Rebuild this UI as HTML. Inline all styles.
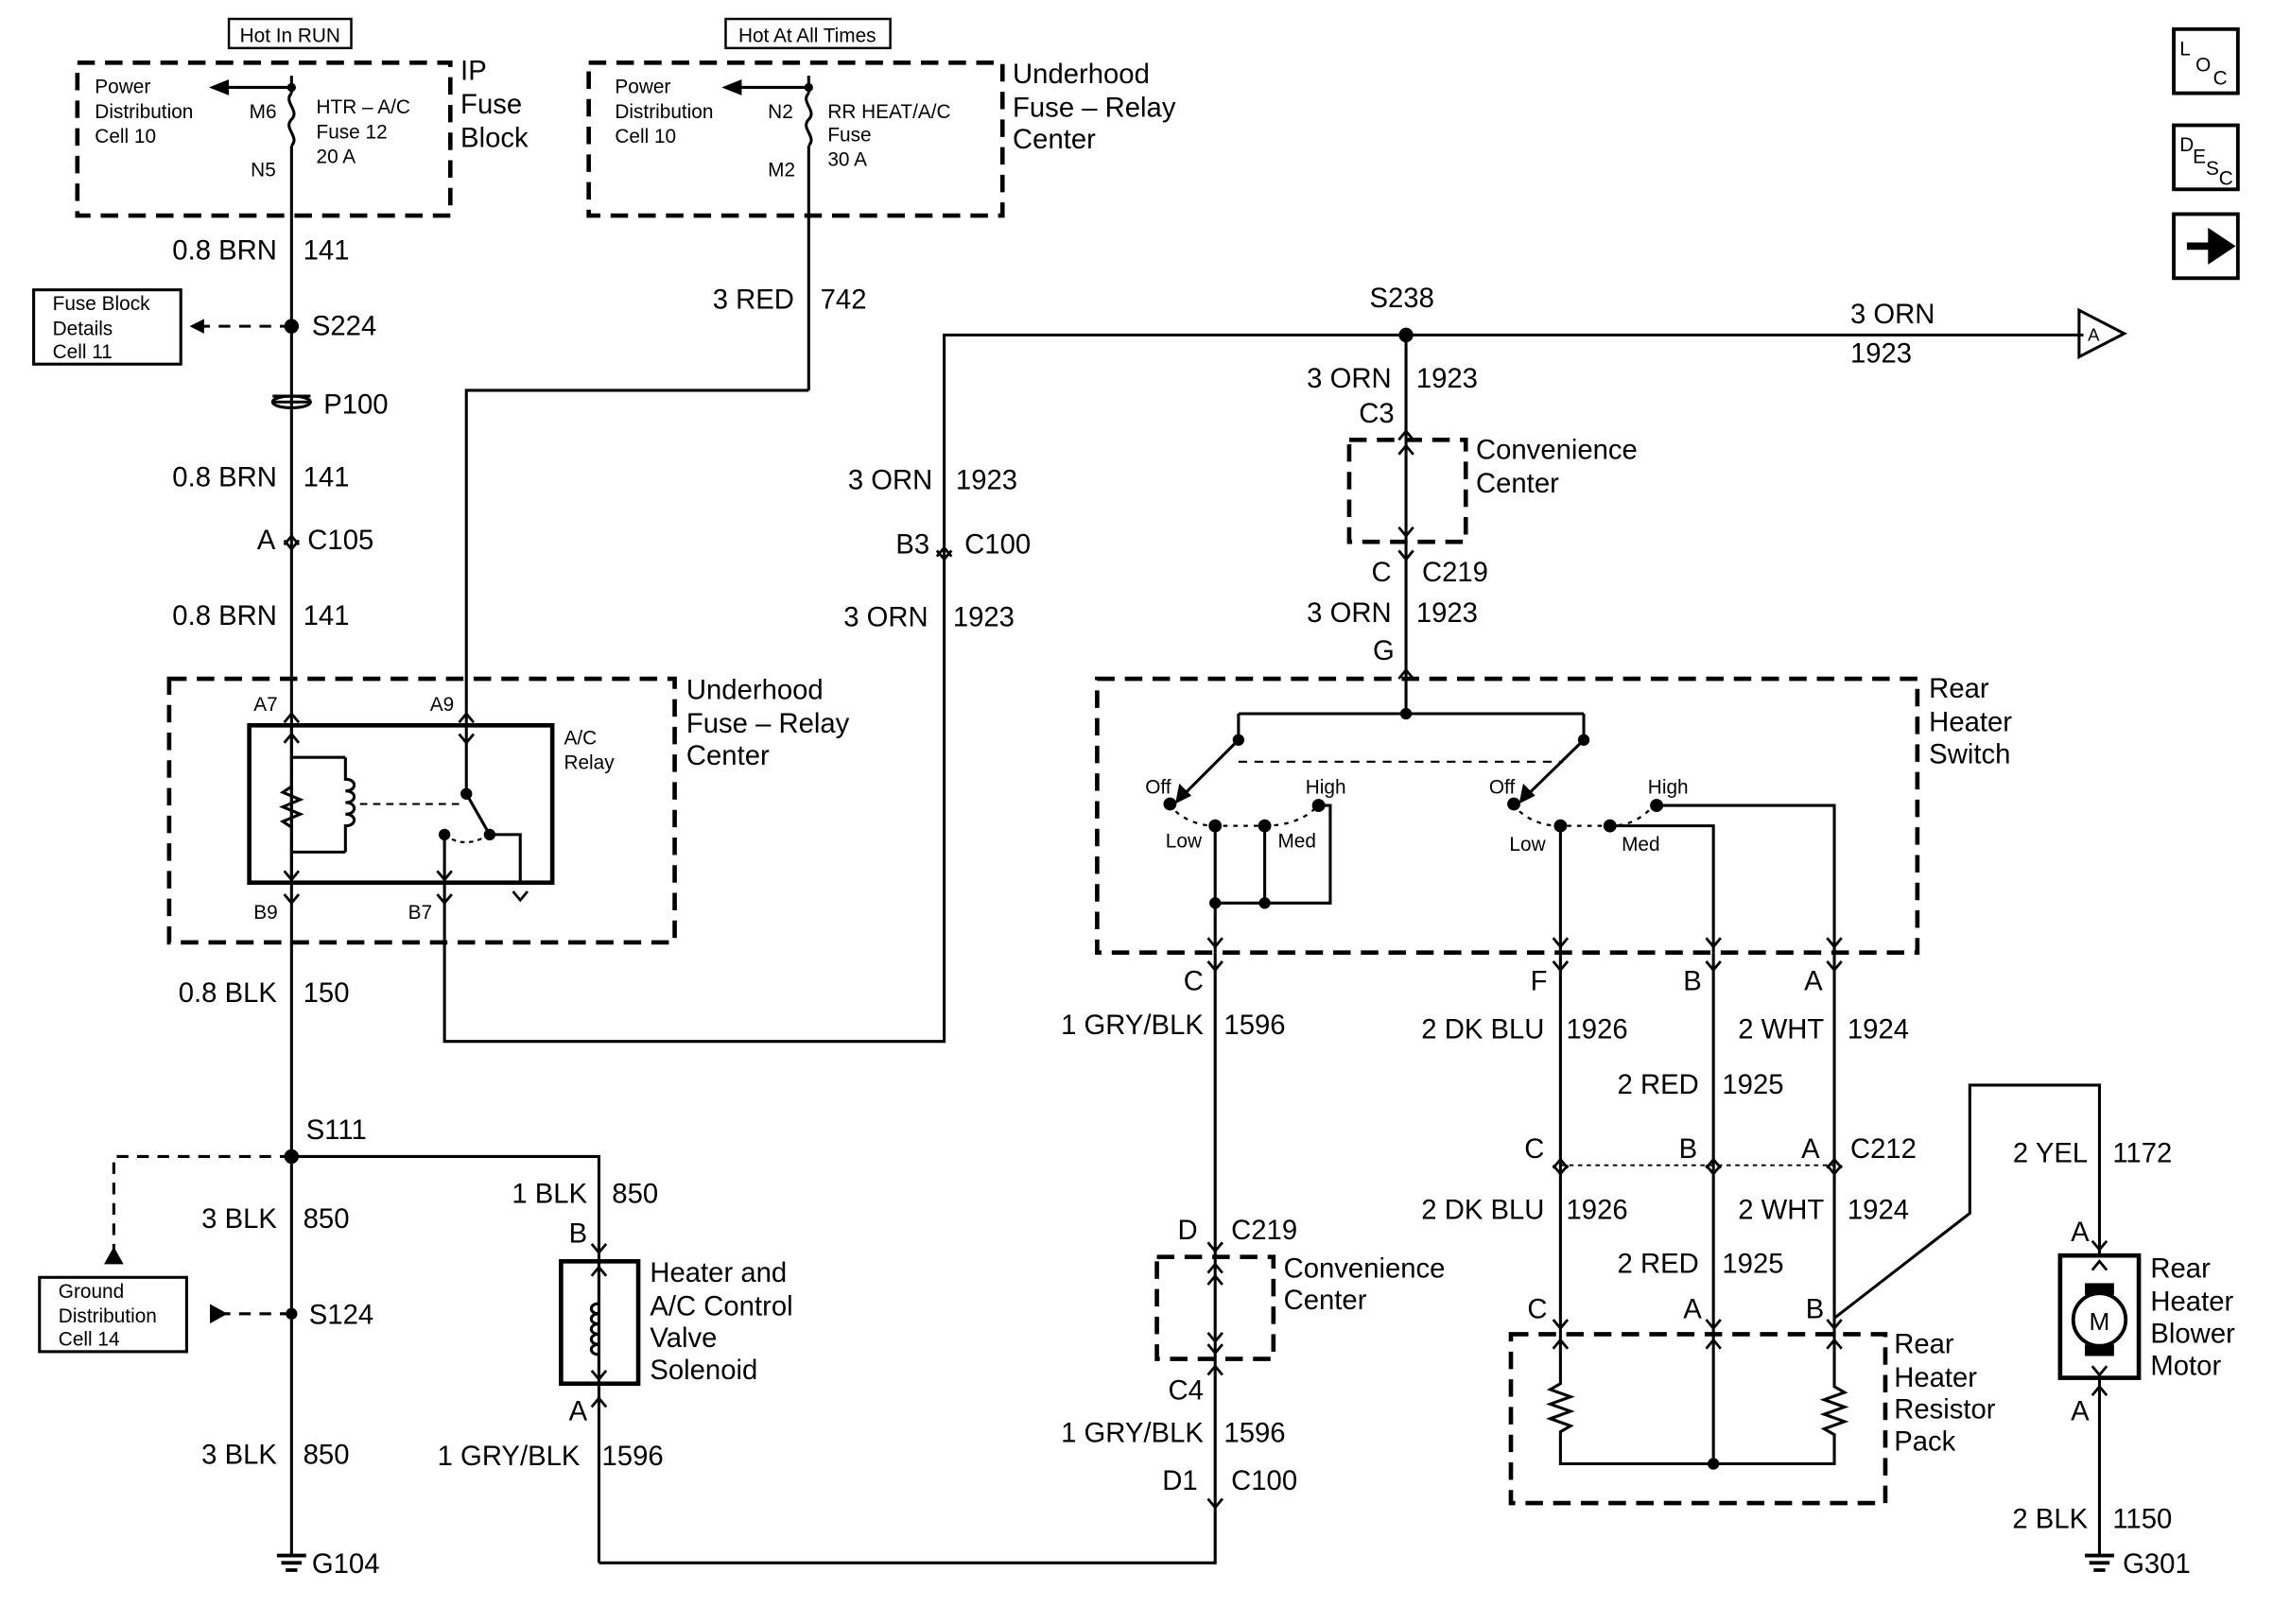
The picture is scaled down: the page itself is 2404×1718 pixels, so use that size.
<!DOCTYPE html>
<html><head><meta charset="utf-8"><style>
html,body{margin:0;padding:0;background:#fff}
svg{display:block}
text{font-family:"Liberation Sans",sans-serif;fill:#000}
.l{font-size:19px}.s{font-size:13.5px}
</style></head><body>
<svg width="2404" height="1718" viewBox="0 0 1560 1115" xmlns="http://www.w3.org/2000/svg">
<defs>
<polyline id="dn" points="-5,-6 0,0 5,-6" fill="none" stroke="#000" stroke-width="1.8"/>
<polyline id="up" points="-5,6 0,0 5,6" fill="none" stroke="#000" stroke-width="1.8"/>
</defs>
<g fill="none" stroke="#000" stroke-width="2">
<g stroke-width="3" stroke-dasharray="12,7">
<rect x="53" y="43" width="256" height="105"/>
<rect x="404" y="43" width="284" height="105"/>
<rect x="116" y="466" width="347" height="181"/>
<rect x="926" y="302" width="80" height="70"/>
<rect x="753" y="466" width="563" height="188"/>
<rect x="794" y="863" width="80" height="70"/>
<rect x="1037" y="916" width="257" height="116"/>
</g>
<rect x="157" y="13" width="84" height="20" stroke-width="1.6"/>
<rect x="498" y="13" width="113" height="20" stroke-width="1.6"/>
<rect x="23" y="199" width="101" height="51"/>
<rect x="27" y="877" width="101" height="51"/>
<path d="M200 52V64 M200 100V148 M200 64c-6 6 6 12 0 18c-6 6 6 12 0 18"/>
<path d="M200 60H148"/><path d="M146 60l10-4v8z" fill="#000"/>
<circle cx="200" cy="60" r="2" fill="#000"/>
<path d="M555 52V64 M555 100V268 M555 64c-6 6 6 12 0 18c-6 6 6 12 0 18"/>
<path d="M555 60H500"/><path d="M498 60l10-4v8z" fill="#000"/>
<circle cx="555" cy="60" r="2" fill="#000"/>
<path d="M200 148V1068"/>
<path d="M200 224H138" stroke-dasharray="8,6"/><path d="M130 224l10-5v10z" fill="#000" stroke="none"/>
<ellipse cx="200" cy="276" rx="13" ry="4"/><path d="M187 276h26 M187 272h26"/>
<path d="M200 794H78V858" stroke-dasharray="8,6"/><path d="M78 858l-5 9h10z" fill="#000"/>
<path d="M200 902H148" stroke-dasharray="8,6"/><path d="M145 897l9 5-9 5z" fill="#000"/>
<path d="M200 794H411V950 M411 950V1073"/>
<rect x="171" y="498" width="208" height="108" stroke-width="3"/>
<path d="M200 498V606 M200 520H237 M200 585H237"/>
<path d="M200 540l-6 4 12 5-12 5 12 5-12 5 6 4"/>
<path d="M237 520V535c8 0 8 8 0 8c8 0 8 8 0 8c8 0 8 8 0 8c8 0 8 8 0 8V585"/>
<path d="M247 552H318" stroke-dasharray="5,4" stroke-width="1.4"/>
<path d="M320 498V545L336 573H357V606 M305 573V606"/>
<circle cx="320" cy="545" r="3" fill="#000"/><circle cx="336" cy="573" r="3" fill="#000"/><circle cx="305" cy="573" r="3" fill="#000"/>
<path d="M305 573c10 8 22 6 30 0" stroke-dasharray="3,3" stroke-width="1.4"/>
<path d="M320 498V268H555 M305 606V715H648V230H1430"/>
<path d="M965 230V466"/>
<path d="M965 466V490 M850 490H1087 M850 490V508 M1087 490V508 M850 508L808 550 M1087 508L1044 550"/>
<path d="M808 550l2-10 6 6z M1044 550l2-10 6 6z" fill="#000"/>
<path d="M850 523H1073" stroke-dasharray="6,5" stroke-width="1.4"/>
<path d="M802 552c8 10 20 15 32 15H868c15 0 30-5 37-15 M1038 552c8 10 20 15 32 15H1105c15 0 25-7 32-17" stroke-dasharray="3,4" stroke-width="1.5"/>
<path d="M834 567V654 M868 567V620 M834 620H913V553H905 M1071 567V654 M1105 567H1176V654 M1137 553H1259V654"/>
<g fill="#000"><circle cx="965" cy="490" r="3"/><circle cx="850" cy="508" r="3"/><circle cx="1087" cy="508" r="3"/><circle cx="803" cy="552" r="3.5"/><circle cx="834" cy="567" r="3.5"/><circle cx="868" cy="567" r="3.5"/><circle cx="905" cy="553" r="3.5"/><circle cx="834" cy="620" r="3"/><circle cx="868" cy="620" r="3"/><circle cx="1039" cy="552" r="3.5"/><circle cx="1071" cy="567" r="3.5"/><circle cx="1105" cy="567" r="3.5"/><circle cx="1137" cy="553" r="3.5"/></g>
<path d="M834 654V1073H411 M1071 654V916 M1176 654V916 M1259 654V916"/>
<path d="M1071 800H1259" stroke-dasharray="3,3" stroke-width="1.2"/>
<path d="M1071 916V950l-7 4 14 5-14 5 14 5-14 5 14 5-7 4V1005H1259V985l-7-4 14-5-14-5 14-5-14-5 14-5-7-4V916 M1176 916V1005"/>
<circle cx="1176" cy="1005" r="3" fill="#000"/>
<path d="M1259 905L1352 833V745H1441V862 M1441 946V1068"/>
<rect x="385" y="866" width="53" height="84" stroke-width="3"/>
<path d="M411 870V895c-7 0-7 7 0 7c-7 0-7 7 0 7c-7 0-7 7 0 7c-7 0-7 7 0 7c-7 0-7 7 0 7V946"/>
<rect x="1414" y="862" width="54" height="84" stroke-width="3"/>
<circle cx="1441" cy="906" r="18" stroke-width="2.5"/>
<rect x="1432" y="882" width="18" height="6" fill="#000"/><rect x="1432" y="924" width="18" height="6" fill="#000"/>
<path d="M1427 213L1458 229L1427 245Z"/>
<path d="M190 1068h20M193 1073h14M196 1078h8M1431 1068h20M1434 1073h14M1437 1078h8" stroke-width="2.5"/>
<rect x="1492" y="20" width="44" height="44" stroke-width="2.5"/>
<rect x="1492" y="86" width="44" height="44" stroke-width="2.5"/>
<rect x="1492" y="147" width="44" height="44" stroke-width="2.5"/>
<path d="M1501 169H1518V161L1530 169L1518 177V169" fill="#000" stroke-width="5"/>
</g>
<g fill="#000"><circle cx="200" cy="224" r="5"/><circle cx="965" cy="230" r="5"/><circle cx="200" cy="794" r="5"/><circle cx="200" cy="902" r="4"/></g>
<use href="#dn" x="200" y="377"/><use href="#up" x="200" y="368"/>
<use href="#up" x="648" y="376"/><use href="#dn" x="648" y="384"/>
<use href="#up" x="200" y="490"/><use href="#up" x="320" y="490"/>
<use href="#dn" x="200" y="620"/><use href="#dn" x="305" y="620"/>
<use href="#up" x="965" y="296"/><use href="#dn" x="965" y="384"/><use href="#up" x="965" y="460"/>
<use href="#dn" x="834" y="666"/><use href="#dn" x="1071" y="666"/><use href="#dn" x="1176" y="666"/><use href="#dn" x="1259" y="666"/>
<use href="#dn" x="834" y="650"/><use href="#dn" x="1071" y="650"/><use href="#dn" x="1176" y="650"/><use href="#dn" x="1259" y="650"/>
<use href="#up" x="1071" y="796"/><use href="#dn" x="1071" y="806"/><use href="#up" x="1176" y="796"/><use href="#dn" x="1176" y="806"/><use href="#up" x="1259" y="796"/><use href="#dn" x="1259" y="806"/>
<use href="#dn" x="1071" y="912"/><use href="#up" x="1071" y="920"/><use href="#dn" x="1176" y="912"/><use href="#up" x="1176" y="920"/><use href="#dn" x="1259" y="912"/><use href="#up" x="1259" y="920"/>
<use href="#dn" x="834" y="859"/><use href="#up" x="834" y="868"/><use href="#dn" x="834" y="929"/><use href="#up" x="834" y="938"/>
<use href="#dn" x="834" y="1035"/>
<use href="#dn" x="411" y="860"/><use href="#up" x="411" y="870"/><use href="#up" x="411" y="960"/><use href="#dn" x="411" y="947"/>
<use href="#dn" x="1441" y="858"/><use href="#up" x="1441" y="866"/><use href="#up" x="1441" y="952"/><use href="#dn" x="1441" y="944"/>
<use href="#dn" x="320" y="510"/><use href="#up" x="200" y="504"/><use href="#dn" x="200" y="604"/><use href="#dn" x="305" y="604"/><use href="#dn" x="357" y="618"/>
<use href="#up" x="965" y="306"/><use href="#dn" x="965" y="368"/><use href="#up" x="834" y="876"/><use href="#dn" x="834" y="921"/>
<g class="s">
<text x="199" y="29" text-anchor="middle">Hot In RUN</text>
<text x="554" y="29" text-anchor="middle">Hot At All Times</text>
<text x="65" y="64">Power</text><text x="65" y="81">Distribution</text><text x="65" y="98">Cell 10</text>
<text x="171" y="81">M6</text><text x="172" y="121">N5</text>
<text x="217" y="78">HTR – A/C</text><text x="217" y="95">Fuse 12</text><text x="217" y="112">20 A</text>
<text x="422" y="64">Power</text><text x="422" y="81">Distribution</text><text x="422" y="98">Cell 10</text>
<text x="527" y="81">N2</text><text x="527" y="121">M2</text>
<text x="568" y="81">RR HEAT/A/C</text><text x="568" y="97">Fuse</text><text x="568" y="114">30 A</text>
<text x="36" y="213">Fuse Block</text><text x="36" y="230">Details</text><text x="36" y="246">Cell 11</text>
<text x="40" y="891">Ground</text><text x="40" y="908">Distribution</text><text x="40" y="924">Cell 14</text>
<text x="174" y="488">A7</text><text x="295" y="488">A9</text><text x="174" y="631">B9</text><text x="280" y="631">B7</text>
<text x="387" y="511">A/C</text><text x="387" y="528">Relay</text>
<text x="786" y="545">Off</text><text x="896" y="545">High</text><text x="800" y="582">Low</text><text x="877" y="582">Med</text>
<text x="1022" y="545">Off</text><text x="1131" y="545">High</text><text x="1036" y="584">Low</text><text x="1113" y="584">Med</text>
<text x="1496" y="38">L</text><text x="1507" y="49">O</text><text x="1519" y="58">C</text>
<text x="1496" y="104">D</text><text x="1505" y="112">E</text><text x="1514" y="120">S</text><text x="1523" y="127">C</text>
<text x="1433" y="234" font-size="12">A</text>
</g>
<g class="l">
<text x="316" y="55">IP</text><text x="316" y="78">Fuse</text><text x="316" y="101">Block</text>
<text x="695" y="57">Underhood</text><text x="695" y="80">Fuse – Relay</text><text x="695" y="102">Center</text>
<text x="471" y="480">Underhood</text><text x="471" y="503">Fuse – Relay</text><text x="471" y="525">Center</text>
<text x="1013" y="315">Convenience</text><text x="1013" y="338">Center</text>
<text x="881" y="877">Convenience</text><text x="881" y="899">Center</text>
<text x="1324" y="479">Rear</text><text x="1324" y="502">Heater</text><text x="1324" y="524">Switch</text>
<text x="1300" y="929">Rear</text><text x="1300" y="952">Heater</text><text x="1300" y="974">Resistor</text><text x="1300" y="996">Pack</text>
<text x="1476" y="877">Rear</text><text x="1476" y="900">Heater</text><text x="1476" y="922">Blower</text><text x="1476" y="944">Motor</text>
<text x="446" y="880">Heater and</text><text x="446" y="903">A/C Control</text><text x="446" y="925">Valve</text><text x="446" y="947">Solenoid</text>
<text x="1432" y="913" font-size="17" text-anchor="middle" dx="9">M</text>
<g text-anchor="end">
<text x="190" y="178">0.8 BRN</text><text x="190" y="334">0.8 BRN</text><text x="190" y="429">0.8 BRN</text>
<text x="189" y="377">A</text><text x="190" y="688">0.8 BLK</text><text x="190" y="843">3 BLK</text><text x="190" y="1005">3 BLK</text>
<text x="403" y="826">1 BLK</text><text x="403" y="853">B</text><text x="403" y="975">A</text><text x="398" y="1006">1 GRY/BLK</text>
<text x="545" y="212">3 RED</text><text x="640" y="336">3 ORN</text><text x="638" y="380">B3</text><text x="637" y="430">3 ORN</text>
<text x="955" y="266">3 ORN</text><text x="957" y="290">C3</text><text x="955" y="399">C</text><text x="955" y="427">3 ORN</text><text x="957" y="453">G</text>
<text x="826" y="680">C</text><text x="826" y="710">1 GRY/BLK</text><text x="822" y="851">D</text><text x="826" y="961">C4</text><text x="826" y="990">1 GRY/BLK</text><text x="822" y="1023">D1</text>
<text x="1062" y="680">F</text><text x="1060" y="713">2 DK BLU</text><text x="1168" y="680">B</text><text x="1251" y="680">A</text><text x="1252" y="713">2 WHT</text><text x="1166" y="751">2 RED</text>
<text x="1060" y="795">C</text><text x="1165" y="795">B</text><text x="1249" y="795">A</text>
<text x="1060" y="837">2 DK BLU</text><text x="1252" y="837">2 WHT</text><text x="1166" y="874">2 RED</text>
<text x="1062" y="905">C</text><text x="1168" y="905">A</text><text x="1252" y="905">B</text>
<text x="1433" y="798">2 YEL</text><text x="1434" y="852">A</text><text x="1434" y="975">A</text><text x="1433" y="1049">2 BLK</text>
</g>
<text x="208" y="178">141</text><text x="214" y="230">S224</text><text x="222" y="284">P100</text><text x="208" y="334">141</text><text x="211" y="377">C105</text><text x="208" y="429">141</text>
<text x="208" y="688">150</text><text x="210" y="782">S111</text><text x="208" y="843">850</text><text x="212" y="909">S124</text><text x="208" y="1005">850</text><text x="214" y="1080">G104</text>
<text x="420" y="826">850</text><text x="413" y="1006">1596</text>
<text x="563" y="212">742</text><text x="656" y="336">1923</text><text x="662" y="380">C100</text><text x="654" y="430">1923</text>
<text x="940" y="211">S238</text><text x="1270" y="222">3 ORN</text><text x="1270" y="249">1923</text>
<text x="972" y="266">1923</text><text x="976" y="399">C219</text><text x="972" y="427">1923</text>
<text x="840" y="710">1596</text><text x="845" y="851">C219</text><text x="840" y="990">1596</text><text x="845" y="1023">C100</text>
<text x="1075" y="713">1926</text><text x="1268" y="713">1924</text><text x="1182" y="751">1925</text><text x="1270" y="795">C212</text>
<text x="1075" y="837">1926</text><text x="1268" y="837">1924</text><text x="1182" y="874">1925</text>
<text x="1450" y="798">1172</text><text x="1450" y="1049">1150</text><text x="1457" y="1080">G301</text>
</g>
</svg>
</body></html>
